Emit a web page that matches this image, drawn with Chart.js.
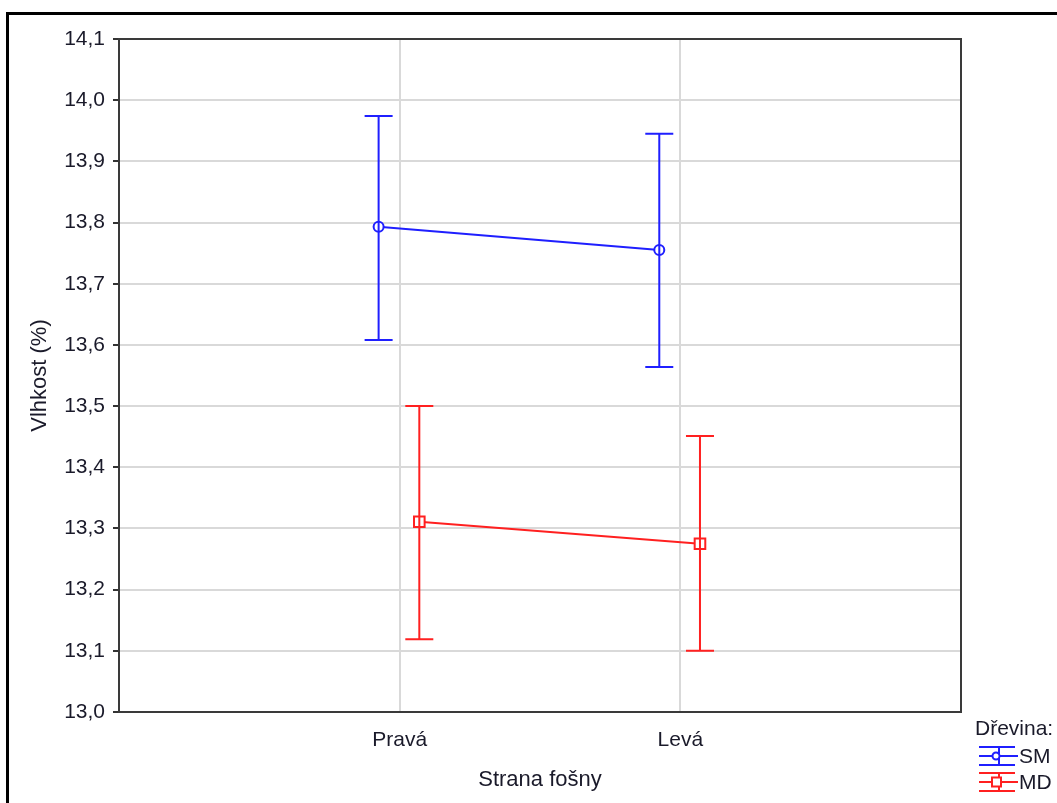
<!DOCTYPE html>
<html>
<head>
<meta charset="utf-8">
<script src="https://cdn.jsdelivr.net/npm/chart.js@4.4.1/dist/chart.umd.min.js"></script>
<style>
  html, body { margin: 0; padding: 0; background: #fff; }
  canvas { display: block; }
</style>
</head>
<body>
<canvas id="chart" width="1057" height="803"></canvas>
<script>
// categories and values
const categories = ['Pravá', 'Levá'];
const yTicks = [13.0, 13.1, 13.2, 13.3, 13.4, 13.5, 13.6, 13.7, 13.8, 13.9, 14.0, 14.1];

const smMean = [13.793, 13.755];
const smHigh = [13.974, 13.945];
const smLow  = [13.608, 13.564];

const mdMean = [13.311, 13.275];
const mdHigh = [13.500, 13.451];
const mdLow  = [13.119, 13.100];

const BLUE = '#1f1fff';
const RED = '#ff2020';
const TEXT = '#1a1a2a';
const FONT = '"Liberation Sans", Arial, sans-serif';

const series = [
  { name: 'SM', color: BLUE, mean: smMean, high: smHigh, low: smLow, shift: -0.075, style: 'circle', r: 5 },
  { name: 'MD', color: RED, mean: mdMean, high: mdHigh, low: mdLow, shift: 0.07, style: 'rect', r: 7.5 }
];

// error bars, plot frame, outer frame and the legend
const extras = {
  id: 'extras',
  afterDatasetsDraw(chart) {
    const ctx = chart.ctx;
    const x = chart.scales.x, y = chart.scales.y;
    ctx.save();
    series.forEach(s => {
      ctx.strokeStyle = s.color;
      ctx.lineWidth = 2;
      s.mean.forEach((m, i) => {
        const px = x.getPixelForValue(i + 1 + s.shift);
        const top = y.getPixelForValue(s.high[i]);
        const bot = y.getPixelForValue(s.low[i]);
        ctx.beginPath();
        ctx.moveTo(px, top); ctx.lineTo(px, bot);
        ctx.moveTo(px - 14, top); ctx.lineTo(px + 14, top);
        ctx.moveTo(px - 14, bot); ctx.lineTo(px + 14, bot);
        ctx.stroke();
      });
    });
    ctx.restore();
  },
  afterDraw(chart) {
    const ctx = chart.ctx;
    const a = chart.chartArea;
    ctx.save();
    ctx.strokeStyle = '#3a3a3a';
    ctx.lineWidth = 2;
    ctx.strokeRect(a.left, a.top, a.right - a.left, a.bottom - a.top);

    ctx.strokeStyle = '#000';
    ctx.lineWidth = 3;
    ctx.strokeRect(7.5, 13.5, 1200, 900);

    // legend
    ctx.fillStyle = TEXT;
    ctx.font = '21px ' + FONT;
    ctx.textBaseline = 'middle';
    ctx.textAlign = 'left';
    ctx.fillText('Dřevina:', 975, 729);
    series.forEach((s, k) => {
      const cy = 756 + k * 26;
      ctx.strokeStyle = s.color;
      ctx.lineWidth = 2;
      ctx.beginPath();
      ctx.moveTo(979, cy - 9); ctx.lineTo(1015, cy - 9);
      ctx.moveTo(979, cy); ctx.lineTo(1018, cy);
      ctx.moveTo(979, cy + 9); ctx.lineTo(1015, cy + 9);
      ctx.moveTo(999, cy - 9); ctx.lineTo(999, cy + 9);
      ctx.stroke();
      ctx.fillStyle = '#fff';
      ctx.beginPath();
      if (s.style === 'circle') ctx.arc(996, cy, 3.5, 0, Math.PI * 2);
      else ctx.rect(992, cy - 4.5, 9, 9);
      ctx.fill();
      ctx.stroke();
      ctx.fillStyle = TEXT;
      ctx.fillText(s.name, 1019, cy + 1);
    });
    ctx.restore();
  }
};

const datasets = series.map(s => ({
  label: s.name,
  data: s.mean.map((m, i) => ({ x: i + 1 + s.shift, y: m })),
  showLine: true,
  borderColor: s.color,
  borderWidth: 2,
  pointStyle: s.style,
  pointRadius: s.r,
  pointBorderWidth: 2,
  pointBorderColor: s.color,
  pointBackgroundColor: '#fff',
  tension: 0
}));

new Chart(document.getElementById('chart'), {
  type: 'scatter',
  data: { datasets },
  options: {
    responsive: false,
    animation: false,
    layout: { padding: { left: 0, top: 39, right: 96, bottom: 0 } },
    plugins: { legend: { display: false }, tooltip: { enabled: false } },
    scales: {
      x: {
        type: 'linear',
        min: 0,
        max: categories.length + 1,
        afterBuildTicks: axis => { axis.ticks = categories.map((c, i) => ({ value: i + 1 })); },
        afterFit: scale => { scale.height = 91; },
        border: { display: false },
        grid: { color: '#d9d9d9', lineWidth: 2, drawTicks: false },
        ticks: {
          color: TEXT,
          font: { family: FONT, size: 21 },
          padding: 16,
          maxRotation: 0,
          callback: v => categories[Math.round(v) - 1] || ''
        },
        title: {
          display: true,
          text: 'Strana fošny',
          color: TEXT,
          font: { family: FONT, size: 22 },
          padding: { top: 0, bottom: 10 }
        }
      },
      y: {
        min: yTicks[0],
        max: yTicks[yTicks.length - 1],
        afterBuildTicks: axis => { axis.ticks = yTicks.map(v => ({ value: v })); },
        afterFit: scale => { scale.width = 119; },
        border: { display: false },
        grid: { color: '#d9d9d9', lineWidth: 2, tickColor: '#333', tickLength: 6 },
        ticks: {
          color: TEXT,
          font: { family: FONT, size: 21 },
          padding: 8,
          callback: v => v.toFixed(1).replace('.', ',')
        },
        title: {
          display: true,
          text: 'Vlhkost (%)',
          color: TEXT,
          font: { family: FONT, size: 22 },
          padding: { top: 27, bottom: 0 }
        }
      }
    }
  },
  plugins: [extras]
});
</script>
</body>
</html>
